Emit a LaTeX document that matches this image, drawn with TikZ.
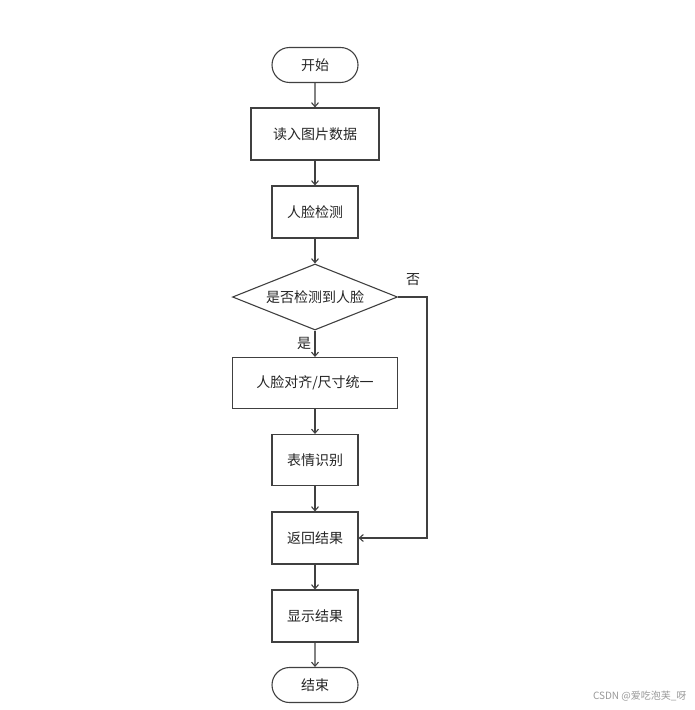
\documentclass[tikz,border=0pt]{standalone}
\usepackage{fontspec}
\setmainfont{Liberation Serif}
\newfontfamily\cjk{Noto Sans CJK SC}
\usetikzlibrary{arrows.meta,shapes.geometric,shapes.misc}
\begin{document}
\begin{tikzpicture}[x=1bp,y=-1bp,
  every node/.style={font=\cjk\fontsize{14bp}{16bp}\selectfont, text=black!85},
  boxnode/.style={draw=black!75, line width=1.1pt, rectangle, inner sep=0pt},
  termnode/.style={draw=black!75, line width=1.1pt, rounded rectangle, inner sep=0pt, minimum width=86bp, minimum height=35bp},
  decnode/.style={draw=black!75, line width=1.1pt, diamond, aspect=2.5, inner sep=0pt, minimum width=165bp, minimum height=66bp},
  flow/.style={draw=black!75, line width=1.1pt, -{Straight Barb[length=4bp,width=7bp]}},
  lbl/.style={font=\cjk\fontsize{14bp}{16bp}\selectfont}]
\useasboundingbox (0,0) rectangle (695,710);
\fill[white] (0,0) rectangle (695,710);
\node[termnode] (start) at (315,65) {开始};
\node[boxnode, minimum width=128bp, minimum height=52bp] (read) at (315,134) {读入图片数据};
\node[boxnode, minimum width=86bp, minimum height=52bp] (detect) at (315,212) {人脸检测};
\node[decnode] (dec) at (315,297) {是否检测到人脸};
\node[boxnode, minimum width=165bp, minimum height=51bp] (align) at (315,383) {人脸对齐/尺寸统一};
\node[boxnode, minimum width=86bp, minimum height=51bp] (recog) at (315,460) {表情识别};
\node[boxnode, minimum width=86bp, minimum height=52bp] (ret) at (315,538) {返回结果};
\node[boxnode, minimum width=86bp, minimum height=52bp] (show) at (315,616) {显示结果};
\node[termnode] (end) at (315,685) {结束};
\coordinate (c1) at (427,297);
\coordinate (c2) at (427,538);
\draw[flow] (start) -- (read);
\draw[flow] (read) -- (detect);
\draw[flow] (detect) -- (dec);
\draw[flow] (dec) -- (align);
\draw[flow] (align) -- (recog);
\draw[flow] (recog) -- (ret);
\draw[flow] (ret) -- (show);
\draw[flow] (show) -- (end);
\draw[flow] (dec.east) -- (c1) -- (c2) -- (ret.east);
\node[lbl] (yes) at (304,343) {是};
\node[lbl] (no) at (413,280) {否};
\node[font=\cjk\fontsize{10bp}{11bp}\selectfont, text=black!40, anchor=east] (wm) at (690,696) {CSDN @爱吃泡芙\_呀};
\end{tikzpicture}
\end{document}
